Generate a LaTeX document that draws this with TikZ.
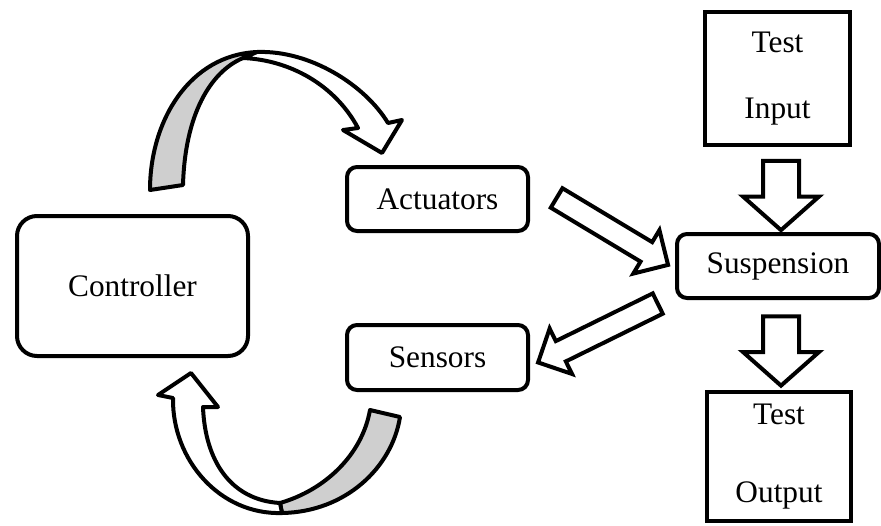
\documentclass[tikz,border=0pt]{standalone}
\usepackage{fontspec}
\setmainfont{Liberation Serif}
\usepackage{tikz}
\usetikzlibrary{shapes.arrows}

\begin{document}
\begin{tikzpicture}[
x=0.75pt,y=-0.75pt,
blk/.style={draw,line width=3pt,rounded corners=7.5pt,inner sep=0pt,font=\fontsize{23.5}{28}\selectfont},
tbox/.style={draw,line width=3pt,align=center,inner sep=0pt,font=\fontsize{23.5}{28}\selectfont},
barr/.style={single arrow,draw,line width=3pt,inner xsep=0pt,minimum width=0pt,single arrow tip angle=90},
back/.style={draw,line width=3pt,line join=round,fill=gray!38},
front/.style={draw,line width=3pt,line join=round,fill=white}
]
\useasboundingbox (0,0) rectangle (881,525);
% blocks
\node[blk,rounded corners=15pt,minimum width=173.25pt,minimum height=105pt] (ctrl) at (132.5,286) {Controller};
\node[blk,minimum width=135.75pt,minimum height=48pt] (act) at (437.5,199) {Actuators};
\node[blk,minimum width=135.75pt,minimum height=48.75pt] (sens) at (437.5,357.5) {Sensors};
\node[blk,minimum width=151.5pt,minimum height=48pt] (susp) at (778,266) {Suspension};
\node[tbox,minimum width=108.75pt,minimum height=99.75pt,font=\fontsize{23.5}{49.5}\selectfont] (tin) at (777.5,78.5) {Test\\Input};
\node[tbox,minimum width=108pt,minimum height=96.75pt,font=\fontsize{23.5}{58.5}\selectfont] (tout) at (779,456.5) {Test\\Output};
% block arrows
\node[barr,rotate=-90,minimum height=52pt,inner ysep=12pt,single arrow head extend=15pt,single arrow tip angle=97] (ain) at (781,187.5) {};
\node[barr,rotate=-90,minimum height=52pt,inner ysep=12pt,single arrow head extend=15pt,single arrow tip angle=97] (aout) at (781,343) {};
\node[barr,rotate=-31,minimum height=97.5pt,inner ysep=7pt,single arrow head extend=10.5pt] (aact) at (607.5,228.5) {};
\node[barr,rotate=206.2,minimum height=100pt,inner ysep=7pt,single arrow head extend=10.5pt] (asens) at (603,330.5) {};
% curved arrow, controller to actuators
\path[back] (150,190) .. controls (150,120) and (190,55) .. (257,52)
  -- (243,58) .. controls (210,72) and (185,115) .. (183,185) -- cycle;
\path[front] (257,52) .. controls (310,50) and (365,85) .. (388,123)
  -- (402,120) -- (382,153) -- (343,130) -- (358,128)
  .. controls (335,85) and (290,60) .. (243,58) -- cycle;
% curved arrow, sensors to controller
\path[back] (370,410) -- (400,417) .. controls (392,468) and (345,512) .. (282,513)
  -- (280,503) .. controls (325,490) and (362,455) .. (370,410) -- cycle;
\path[front] (282,513) .. controls (220,515) and (172,460) .. (173,398)
  -- (158,395) -- (191,373) -- (218,407) -- (203,407)
  .. controls (205,460) and (230,500) .. (280,503) -- cycle;
\end{tikzpicture}
\end{document}
